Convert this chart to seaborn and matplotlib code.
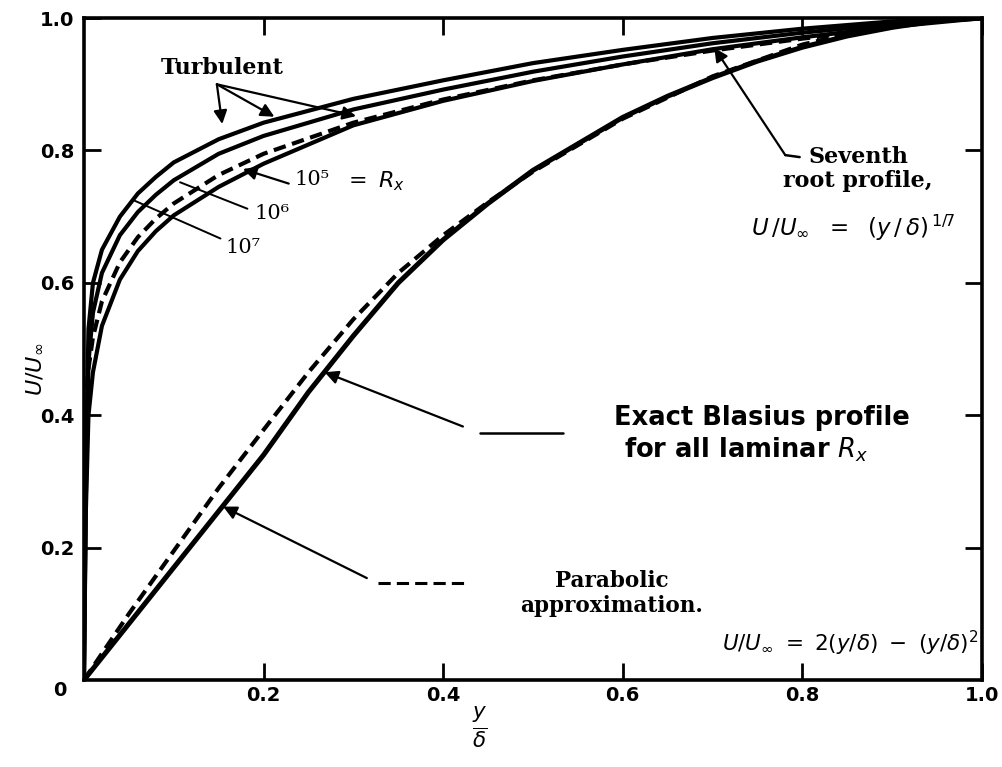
import numpy as np
import pandas as pd
import matplotlib
matplotlib.use("Agg")
import matplotlib.pyplot as plt
import seaborn as sns

# ---- data ----
x_turb = [0.0, 0.002, 0.005, 0.01, 0.02, 0.04, 0.06, 0.08, 0.10, 0.15, 0.20,
          0.30, 0.40, 0.50, 0.60, 0.70, 0.80, 0.90, 1.00]
u_re7 = [0.0, 0.30, 0.53, 0.60, 0.65, 0.70, 0.735, 0.76, 0.782, 0.817, 0.842,
         0.878, 0.906, 0.932, 0.952, 0.970, 0.984, 0.995, 1.0]
u_re6 = [0.0, 0.27, 0.48, 0.555, 0.615, 0.672, 0.707, 0.733, 0.755, 0.795, 0.822,
         0.862, 0.892, 0.919, 0.942, 0.962, 0.978, 0.991, 1.0]
u_re5 = [0.0, 0.25, 0.40, 0.465, 0.535, 0.605, 0.648, 0.678, 0.702, 0.745, 0.780,
         0.838, 0.875, 0.905, 0.930, 0.953, 0.971, 0.987, 1.0]

x_seventh = [0.003, 0.005, 0.01, 0.02, 0.04, 0.06, 0.08, 0.10, 0.15, 0.20,
             0.30, 0.40, 0.50, 0.60, 0.70, 0.80, 0.87]
u_seventh = [0.44, 0.47, 0.518, 0.572, 0.631, 0.669, 0.697, 0.720, 0.763, 0.795,
             0.842, 0.877, 0.906, 0.930, 0.951, 0.969, 0.980]

x_lam = [0.0, 0.05, 0.10, 0.15, 0.20, 0.25, 0.30, 0.35, 0.40, 0.45, 0.50,
         0.55, 0.60, 0.65, 0.70, 0.75, 0.80, 0.85, 0.90, 0.95, 1.00]
u_blasius = [0.0, 0.085, 0.170, 0.255, 0.340, 0.435, 0.520, 0.600, 0.665, 0.720, 0.770,
             0.810, 0.850, 0.882, 0.910, 0.935, 0.956, 0.973, 0.986, 0.996, 1.0]

x_parab = [0.0, 0.05, 0.10, 0.15, 0.20, 0.25, 0.30, 0.35, 0.40, 0.45, 0.50,
           0.60, 0.70, 0.80, 0.88]
u_parab = [0.0, 0.100, 0.195, 0.290, 0.378, 0.465, 0.545, 0.615, 0.672, 0.722, 0.768,
           0.848, 0.912, 0.960, 0.985]

tick_vals = [0.2, 0.4, 0.6, 0.8, 1.0]
tick_labels = ["0.2", "0.4", "0.6", "0.8", "1.0"]

# ---- styling ----
sns.set_theme(style="ticks")
plt.rcParams['font.family'] = ['DejaVu Sans']
plt.rcParams['mathtext.fontset'] = 'dejavusans'
plt.rcParams['text.color'] = 'black'
plt.rcParams['axes.labelcolor'] = 'black'
plt.rcParams['xtick.color'] = 'black'
plt.rcParams['ytick.color'] = 'black'

fig = plt.figure(figsize=(10.02, 7.67), dpi=100)
ax = fig.add_axes([0.0838, 0.1134, 0.8962, 0.863])

turb = pd.DataFrame({"x": x_turb, "Re7": u_re7, "Re6": u_re6, "Re5": u_re5})
for col in ["Re7", "Re6", "Re5"]:
    sns.lineplot(data=turb, x="x", y=col, ax=ax, color="black", linewidth=3.0,
                 sort=False, estimator=None)

sns.lineplot(x=x_seventh, y=u_seventh, ax=ax, color="black", linewidth=3.0,
             sort=False, estimator=None)
ax.lines[-1].set_dashes((3, 1.6))

sns.lineplot(x=x_lam, y=u_blasius, ax=ax, color="black", linewidth=3.6,
             sort=False, estimator=None)
sns.lineplot(x=x_parab, y=u_parab, ax=ax, color="black", linewidth=3.0,
             sort=False, estimator=None)
ax.lines[-1].set_dashes((3, 1.6))

ax.set_xlim(0, 1)
ax.set_ylim(0, 1)
ax.set_xticks(tick_vals)
ax.set_xticklabels(tick_labels)
ax.set_yticks(tick_vals)
ax.set_yticklabels(tick_labels)
ax.tick_params(direction="in", length=12, width=2, top=True, right=True,
               labelsize=14, colors="black")
ax.tick_params(axis="x", pad=4)
ax.tick_params(axis="y", pad=7)
for lab in ax.get_xticklabels() + ax.get_yticklabels():
    lab.set_fontweight("bold")
for sp in ax.spines.values():
    sp.set_linewidth(2.6)
    sp.set_color("black")
ax.set_xlabel("")
ax.set_ylabel("")

ax.text(-0.027, -0.016, "0", transform=ax.transAxes, ha="center", va="center",
        fontsize=14, fontweight="bold")
ax.text(-0.055, 0.47, r"$U/U_{\infty}$", transform=ax.transAxes, rotation=90,
        ha="center", va="center", fontsize=16)
fig.text(480 / 1002, 1 - 727 / 767, r"$\frac{y}{\delta}$", ha="center",
         va="center", fontsize=22)

serif = "DejaVu Serif"
arrow = dict(arrowstyle="-|>", color="black", lw=1.6, mutation_scale=20,
             shrinkA=0, shrinkB=0)
thin = dict(arrowstyle="-", color="black", lw=1.4, shrinkA=0, shrinkB=0)

# Turbulent label and arrows
ax.text(0.154, 0.924, "Turbulent", ha="center", va="center", fontsize=16,
        fontweight="bold", family=serif)
for tip in [(0.154, 0.840), (0.212, 0.851), (0.303, 0.852)]:
    ax.annotate("", xy=tip, xytext=(0.148, 0.900), arrowprops=arrow)

# Reynolds number labels
ax.text(0.234, 0.756, "10⁵", ha="left", va="center", fontsize=15, family=serif)
ax.text(0.290, 0.754, r"$=\ R_x$", ha="left", va="center", fontsize=16)
ax.annotate("", xy=(0.177, 0.772), xytext=(0.228, 0.750), arrowprops=arrow)
ax.text(0.190, 0.705, "10⁶", ha="left", va="center", fontsize=15, family=serif)
ax.annotate("", xy=(0.107, 0.752), xytext=(0.182, 0.712), arrowprops=thin)
ax.text(0.158, 0.654, "10⁷", ha="left", va="center", fontsize=15, family=serif)
ax.annotate("", xy=(0.055, 0.725), xytext=(0.152, 0.667), arrowprops=thin)

# Seventh root
ax.annotate("", xy=(0.702, 0.955), xytext=(0.781, 0.793), arrowprops=arrow)
ax.plot([0.781, 0.797], [0.793, 0.790], color="black", lw=1.8)
ax.text(0.862, 0.772, "Seventh\nroot profile,", ha="center", va="center",
        fontsize=16, fontweight="bold", family=serif, linespacing=1.1)
ax.text(0.857, 0.683, r"$U\,/U_{\infty}\ \ =\ \ (y\,/\,\delta)^{\,1/7}$", ha="center",
        va="center", fontsize=16.5)

# Blasius
ax.annotate("", xy=(0.268, 0.465), xytext=(0.422, 0.383), arrowprops=arrow)
ax.plot([0.441, 0.533], [0.373, 0.373], color="black", lw=1.8)
ax.text(0.755, 0.396, "Exact Blasius profile", ha="center", va="center",
        fontsize=18.5, fontweight="bold", family="DejaVu Sans")
ax.text(0.738, 0.348, r"for all laminar $\mathit{R_x}$", ha="center", va="center",
        fontsize=18.5, fontweight="bold", family="DejaVu Sans")

# Parabolic
ax.annotate("", xy=(0.155, 0.262), xytext=(0.315, 0.154), arrowprops=arrow)
ax.plot([0.327, 0.428], [0.147, 0.147], color="black", lw=2.2, dashes=(4, 2))
ax.text(0.588, 0.149, "Parabolic", ha="center", va="center", fontsize=15.5,
        fontweight="bold", family=serif)
ax.text(0.587, 0.112, "approximation.", ha="center", va="center", fontsize=15.5,
        fontweight="bold", family=serif)
ax.text(0.853, 0.056, r"$U/U_{\infty}\ =\ 2(y/\delta)\ -\ (y/\delta)^2$",
        ha="center", va="center", fontsize=15.5)

fig.savefig("out.png", dpi=100, facecolor="white")
